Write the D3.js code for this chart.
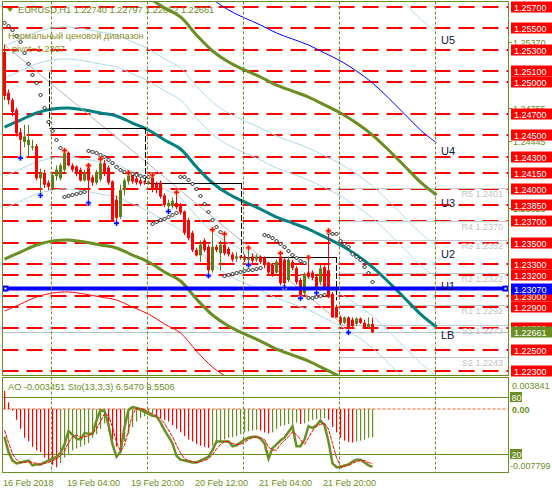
<!DOCTYPE html>
<html><head><meta charset="utf-8">
<script src="https://cdn.jsdelivr.net/npm/d3@7/dist/d3.min.js"></script>
<style>
html,body{margin:0;padding:0;background:#fff;}
svg{display:block;}
text{font-family:"Liberation Sans",Arial,sans-serif;}
</style></head><body>
<svg id="chart" width="552" height="489"></svg>
<script>
// ---------- DATA ----------
const symbolTitle = "EURUSD,H1  1.22740 1.22797 1.22652 1.22661";
const opens=[1.2528,1.2490,1.2483,1.2474,1.2453,1.2444,1.2441,1.2440,1.2440,1.2410,
 1.2415,1.2406,1.2401,1.2412,1.2410,1.2418,1.2434,1.2422,1.2421,1.2418,
 1.2408,1.2421,1.2411,1.2406,1.2409,1.2424,1.2420,1.2407,1.2390,1.2374,
 1.2399,1.2407,1.2413,1.2410,1.2408,1.2407,1.2405,1.2412,1.2405,1.2406,
 1.2394,1.2384,1.2384,1.2387,1.2385,1.2379,1.2371,1.2359,1.2343,1.2338,
 1.2352,1.2346,1.2324,1.2346,1.2340,1.2348,1.2344,1.2339,1.2335,1.2337,
 1.2337,1.2334,1.2337,1.2334,1.2337,1.2336,1.2331,1.2329,1.2322,1.2337,
 1.2334,1.2315,1.2332,1.2326,1.2315,1.2303,1.2322,1.2322,1.2318,1.2313,
 1.2327,1.2324,1.2302,1.2290,1.2280,1.2275,1.2280,1.2278,1.2274,1.2279,
 1.2275,1.2271,1.2274];
const highs=[1.2535,1.2493,1.2485,1.2476,1.2457,1.2460,1.2460,1.2446,1.2442,1.2419,
 1.2418,1.2408,1.2416,1.2422,1.2424,1.2436,1.2435,1.2424,1.2422,1.2420,
 1.2418,1.2422,1.2413,1.2418,1.2428,1.2427,1.2422,1.2408,1.2394,1.2404,
 1.2410,1.2415,1.2414,1.2412,1.2410,1.2408,1.2408,1.2413,1.2407,1.2408,
 1.2396,1.2390,1.2392,1.2397,1.2387,1.2380,1.2373,1.2361,1.2345,1.2352,
 1.2354,1.2348,1.2362,1.2348,1.2352,1.2358,1.2346,1.2341,1.2341,1.2338,
 1.2339,1.2345,1.2340,1.2339,1.2338,1.2337,1.2332,1.2331,1.2334,1.2340,
 1.2336,1.2337,1.2334,1.2328,1.2317,1.2322,1.2336,1.2324,1.2320,1.2329,
 1.2329,1.2361,1.2304,1.2292,1.2282,1.2281,1.2281,1.2280,1.2280,1.2280,
 1.2278,1.2280,1.22797];
const lows=[1.2483,1.2479,1.2468,1.2449,1.2429,1.2439,1.2430,1.2436,1.2408,1.2394,
 1.2401,1.2399,1.2399,1.2408,1.2408,1.2416,1.2421,1.2416,1.2412,1.2407,
 1.2407,1.2387,1.2403,1.2404,1.2407,1.2412,1.2404,1.2370,1.2368,1.2372,
 1.2394,1.2404,1.2405,1.2404,1.2403,1.2404,1.2404,1.2397,1.2396,1.2391,
 1.2383,1.2379,1.2382,1.2381,1.2376,1.2357,1.2352,1.2341,1.2337,1.2332,
 1.2341,1.2319,1.2322,1.2341,1.2324,1.2338,1.2337,1.2332,1.2332,1.2334,
 1.2332,1.2329,1.2331,1.2332,1.2330,1.2326,1.2320,1.2318,1.2319,1.2310,
 1.2308,1.2313,1.2324,1.2311,1.2298,1.2301,1.2316,1.2315,1.2303,1.2310,
 1.2307,1.2298,1.2280,1.2280,1.2273,1.2274,1.2266,1.2271,1.2272,1.2274,
 1.2270,1.2270,1.22652];
const closes=[1.2487,1.2483,1.2472,1.2452,1.2446,1.2449,1.2446,1.2440,1.2410,1.2415,
 1.2404,1.2402,1.2413,1.2418,1.2422,1.2434,1.2422,1.2418,1.2415,1.2408,
 1.2415,1.2408,1.2406,1.2416,1.2424,1.2415,1.2406,1.2371,1.2373,1.2399,
 1.2408,1.2413,1.2407,1.2406,1.2405,1.2406,1.2407,1.2399,1.2399,1.2393,
 1.2385,1.2387,1.2389,1.2383,1.2378,1.2359,1.2354,1.2343,1.2338,1.2348,
 1.2343,1.2324,1.2346,1.2343,1.2348,1.2340,1.2339,1.2334,1.2337,1.2336,
 1.2334,1.2336,1.2333,1.2337,1.2332,1.2329,1.2322,1.2320,1.2332,1.2312,
 1.2312,1.2334,1.2326,1.2313,1.2299,1.2320,1.2318,1.2317,1.2308,1.2326,
 1.2308,1.2299,1.2280,1.2280,1.2275,1.2280,1.2270,1.2272,1.2279,1.2275,
 1.2271,1.2274,1.22661];
const sar=[1.25551,1.25523,1.25485,1.25429,1.25373,1.2527,1.25168,1.25065,1.2499,1.24878,
 1.24757,1.24626,1.24542,1.24458,1.24383,1.23925,1.23935,1.23944,1.23953,1.23963,
 1.23972,1.24355,1.24346,1.24336,1.24318,1.24299,1.24271,1.24243,1.24205,1.24177,
 1.24159,1.24159,1.2414,1.24131,1.24121,1.24112,1.24112,1.23673,1.23692,1.2371,
 1.2372,1.23738,1.23757,1.23776,1.24112,1.24112,1.24084,1.24047,1.2400,1.23935,
 1.2386,1.23785,1.2371,1.23645,1.23598,1.23187,1.23197,1.23206,1.23215,1.23225,
 1.23234,1.23243,1.23243,1.23253,1.23262,1.2357,1.23561,1.23542,1.23514,1.23486,
 1.23458,1.23421,1.23383,1.23355,1.23327,1.23309,1.22982,1.22982,1.22991,1.2300,
 1.2301,1.23589,1.2358,1.2358,1.23514,1.23486,1.23458,1.23393,1.23365,1.23337,
 1.23271,1.23215,1.23131];
const fractalUp=[15,21,24,31,37,43,52,55,61,69,76,81];
const fractalDown=[4,9,21,28,41,51,61,70,74,78,86];

// moving average (displaced) sampled every 4 bars, and envelope deviations
const maBars=[0,4,8,12,16,20,24,28,32,36,40,44,48,52,56,60,64,68,72,76,80,84,88,92,96,100,104,108];
const maValues=[1.24579,1.24644,1.2471,1.24747,1.24757,1.24738,1.2471,1.24682,1.24616,1.24551,
 1.24458,1.24374,1.24205,1.24056,1.23953,1.23879,1.23813,1.23738,1.23682,1.23626,
 1.23552,1.23477,1.23383,1.23271,1.23131,1.22982,1.22832,1.22711];
const envNames=["U5","U4","U3","U2","U1","LB","L1","L2","L3","L4","L5"];
const envDev=[0.02755,0.01719,0.01233,0.00757,0.00458,0,-0.00458,-0.00757,-0.01233,-0.01719,-0.02755];
const envColor=["#a9d9e6","#0000ff","#6b8e23","#a9d9e6","#a9d9e6","#008080","#a9d9e6","#a9d9e6","#6b8e23","#ff0000","#a9d9e6"];
const envWidth=[1,1,3,1,1,3,1,1,3,1,1];
const envLabels=["U5","U4","U3","U2","U1","LB"];

// trend line
const trendBars=[0,85];
const trendPrices=[1.25345,1.2272];
// previous day range steps
const stepBars=[11,35,59,83];
const stepLevels=[1.2509,1.2457,1.24056,1.23365,1.2296];

// horizontal levels
const redLevels=[1.257,1.255,1.253,1.251,1.250,1.247,1.245,1.243,1.2415,1.240,1.2385,1.237,1.235,1.233,1.232,1.230,1.229,1.227,1.225,1.223];
const pivotValue=1.2307;
const pivotNames=["R5","R4","R3","R2","R1","S1","S2"];
const pivotLevels=[1.2401,1.2370,1.2352,1.2322,1.2292,1.2273,1.2243];
const pivotStartBar=84;
const axisTicks=[1.2537,1.24755,1.24445,1.23825];
const bidPrice=1.22661;

// day separators and time labels
const dayStartBars=[12,36,60,84,108];
const timeBars=[0,16,32,48,64,80];
const timeLabels=["16 Feb 2018","19 Feb 04:00","19 Feb 20:00","20 Feb 12:00","21 Feb 04:00","21 Feb 20:00"];

// indicators
const ao=[0.0022,0.0008,-0.0002,-0.00131,-0.00241,-0.0035,-0.00394,-0.0046,-0.00504,-0.00526,
 -0.00591,-0.00635,-0.00679,-0.0071,-0.00657,-0.00591,-0.00548,-0.00504,-0.00482,-0.0046,
 -0.00438,-0.00416,-0.0035,-0.00307,-0.00241,-0.00175,-0.00263,-0.00372,-0.0046,-0.00504,
 -0.00394,-0.00307,-0.00219,-0.00153,-0.0011,-0.00088,-0.00066,-0.00053,-0.00079,-0.0011,
 -0.00131,-0.00153,-0.00197,-0.00241,-0.00285,-0.00329,-0.00372,-0.00394,-0.00429,-0.00447,
 -0.0046,-0.00473,-0.00447,-0.00416,-0.00394,-0.00372,-0.0035,-0.00342,-0.00329,-0.00307,
 -0.00285,-0.00272,-0.00263,-0.00254,-0.00263,-0.00285,-0.00298,-0.00285,-0.00241,-0.0021,
 -0.00197,-0.00184,-0.00175,-0.00166,-0.00184,-0.00175,-0.00153,-0.00131,-0.00123,-0.00114,
 -0.0011,-0.00131,-0.00219,-0.00285,-0.0035,-0.00385,-0.00403,-0.00407,-0.00394,-0.00385,
 -0.00372,-0.0035,-0.003451];
const stochMain=[38,22,13,10,11,12,13,8,9,9,
 11,13,15,17,21,30,44,40,36,35,
 42,41,41,55,66,65,50,30,17,22,
 48,66,69,68,66,64,62,60,59,53,
 45,38,31,18,14,13,12,11,11,13,
 15,17,24,33,33,33,33,28,29,32,
 35,37,38,38,36,31,15,26,30,34,
 37,43,49,28,28,35,49,47,50,55,
 50,33,10,6,6,8,9,12,14,14,
 11,8,6.547];
const stochSignal=[45,32,20,14,11,11,12,11,10,9,
 10,11,13,15,18,23,32,38,40,37,
 38,39,41,46,54,62,60,48,32,23,
 29,45,61,68,68,66,64,62,60,57,
 52,45,38,29,21,15,13,12,11,12,
 13,15,19,25,30,33,33,31,30,30,
 32,35,37,38,37,35,27,24,24,30,
 34,38,43,40,35,30,37,44,49,51,
 52,46,31,16,7,7,8,10,12,13,
 13,11,9.5506];
const stochLevels=[80,20];
const indTitle="AO -0.003451 Sto(13,3,3) 6.5470 9.5506";
const aoMax=0.003841, aoMin=-0.007799;

// ---------- DRAW ----------
const svg=d3.select("#chart");
const OL="#6b8e23";
const PL=2.5, PR=508.5, PT=1.5, PB=375.5, IT=377.5, IB=472.5;
const x=d3.scaleLinear().domain([0,100]).range([4.5,404.5]);
const y=d3.scaleLinear().domain([1.223,1.257]).range([371,7]);
const ys=d3.scaleLinear().domain([0,100]).range([473,377.5]);
const ya=d3.scaleLinear().domain([aoMin,aoMax]).range([473,377.5]);
const fmt5=d3.format(".5f");

svg.append("rect").attr("width",552).attr("height",489).attr("fill","#fff");
const defs=svg.append("defs");
defs.append("clipPath").attr("id","cm").append("rect").attr("x",PL).attr("y",PT).attr("width",PR-PL).attr("height",PB-PT);
defs.append("clipPath").attr("id","ci").append("rect").attr("x",PL).attr("y",IT).attr("width",PR-PL).attr("height",IB-IT);

const gm=svg.append("g").attr("clip-path","url(#cm)");
const gi=svg.append("g").attr("clip-path","url(#ci)");

// day separators
dayStartBars.forEach(i=>{
  const xx=Math.round(x(i)-1.5)+0.5;
  svg.append("line").attr("x1",xx).attr("x2",xx).attr("y1",PT).attr("y2",IB)
    .attr("stroke",OL).attr("stroke-dasharray","3,2");
});

// red dashed levels
gm.selectAll("line.lvl").data(redLevels).join("line").attr("class","lvl")
  .attr("x1",PL).attr("x2",PR).attr("y1",d=>Math.round(y(d))).attr("y2",d=>Math.round(y(d)))
  .attr("stroke","#ff0000").attr("stroke-width",2).attr("stroke-dasharray","16,8");

// pivot grey levels
const px0=x(pivotStartBar)-1.5;
pivotLevels.forEach((v,k)=>{
  const yy=Math.round(y(v))+0.5;
  gm.append("line").attr("x1",px0).attr("x2",PR).attr("y1",yy).attr("y2",yy).attr("stroke","#c8c8c8");
  gm.append("text").attr("x",503).attr("y",yy+8.5).attr("text-anchor","end")
    .attr("font-size",9).attr("fill","#c4c4c4").text(pivotNames[k]+" "+pivotLevels[k].toFixed(4));
});

// bid line
gm.append("line").attr("x1",PL).attr("x2",PR).attr("y1",Math.round(y(bidPrice))+0.5).attr("y2",Math.round(y(bidPrice))+0.5).attr("stroke","#c0c0c0");

// envelopes
const lineGen=d3.line().x(d=>x(d[0])).y(d=>y(d[1])).curve(d3.curveCatmullRom);
const order=[0,3,4,6,7,10,1,9,2,8,5];
order.forEach(k=>{
  const pts=maBars.map((b,j)=>[b,maValues[j]+envDev[k]]);
  gm.append("path").attr("d",lineGen(pts)).attr("fill","none")
    .attr("stroke",envColor[k]).attr("stroke-width",envWidth[k]);
});

// trend line
gm.append("line").attr("x1",x(trendBars[0])).attr("y1",y(trendPrices[0]))
  .attr("x2",x(trendBars[1])).attr("y2",y(trendPrices[1])).attr("stroke","#b4b4b4");

// step lines
stepBars.forEach((b,k)=>{
  const xx=Math.round(x(b))+0.5;
  gm.append("line").attr("x1",xx).attr("x2",xx).attr("y1",y(stepLevels[k])).attr("y2",y(stepLevels[k+1]))
    .attr("stroke","#000").attr("stroke-dasharray","6,2");
  if(k<stepBars.length-1){
    const yy=Math.round(y(stepLevels[k+1]))+0.5;
    gm.append("line").attr("x1",xx).attr("x2",Math.round(x(stepBars[k+1]))+0.5).attr("y1",yy).attr("y2",yy).attr("stroke","#000");
  }
});

// candles
const BULL="#5a7d16", BEAR="#ff0000";
const cg=gm.append("g");
opens.forEach((o,i)=>{
  const c=closes[i], col=c>=o?BULL:BEAR;
  const cx=x(i);
  cg.append("rect").attr("x",cx-0.5).attr("width",1)
    .attr("y",y(highs[i])).attr("height",Math.max(1,y(lows[i])-y(highs[i]))).attr("fill",col);
  const top=y(Math.max(o,c)), bot=y(Math.min(o,c));
  cg.append("rect").attr("x",cx-1.5).attr("width",3)
    .attr("y",top).attr("height",Math.max(1.2,bot-top)).attr("fill",col);
});

// blue pivot line
const pyy=y(pivotValue);
gm.append("line").attr("x1",PL).attr("x2",PR).attr("y1",pyy).attr("y2",pyy).attr("stroke","#0000ff").attr("stroke-width",4);
[PL+3,PR-3].forEach(xx=>{
  gm.append("rect").attr("x",xx-3).attr("y",pyy-3).attr("width",6).attr("height",6).attr("fill","#0000ff");
  gm.append("rect").attr("x",xx-1).attr("y",pyy-1).attr("width",2).attr("height",2).attr("fill","#fff");
});

// SAR
gm.selectAll("path.sar").data(sar).join("path").attr("class","sar")
  .attr("d",(d,i)=>{const cx=x(i),cy=y(d);return `M${cx},${cy-2}L${cx+2},${cy}L${cx},${cy+2}L${cx-2},${cy}Z`;})
  .attr("fill","#fff").attr("stroke","#000").attr("stroke-width",0.9);

// fractals
function cross(g,cx,cy,col,halo){
  g.append("circle").attr("cx",cx).attr("cy",cy).attr("r",3).attr("fill",halo).attr("opacity",0.7);
  g.append("line").attr("x1",cx-2.5).attr("x2",cx+2.5).attr("y1",cy).attr("y2",cy).attr("stroke",col).attr("stroke-width",1.4);
  g.append("line").attr("x1",cx).attr("x2",cx).attr("y1",cy-2.5).attr("y2",cy+2.5).attr("stroke",col).attr("stroke-width",1.4);
}
fractalUp.forEach(i=>cross(gm,x(i),y(highs[i]),"#ff0000","#ffc080"));
fractalDown.forEach(i=>cross(gm,x(i),y(lows[i]),"#0000ff","#a0c8ff"));

// envelope labels
envLabels.forEach((n,k)=>{
  const v=maValues[maValues.length-1]+envDev[k];
  svg.append("text").attr("x",441).attr("y",y(v)+12).attr("font-size",11).attr("fill","#14143c").text(n);
});

// title texts
svg.append("path").attr("d","M7,8L13,8L10,12Z").attr("fill",OL);
svg.append("text").attr("x",18).attr("y",13).attr("font-size",9.2).attr("fill",OL).text(symbolTitle);
svg.append("text").attr("x",8).attr("y",39).attr("font-size",9.2).attr("fill","#8c8c24").text("Нормальный ценовой диапазон");
svg.append("text").attr("x",12).attr("y",52).attr("font-size",9.2).attr("fill","#8c8c24").text("pivot="+pivotValue.toFixed(4));

// ---------- indicator pane ----------
gi.append("line").attr("x1",PL).attr("x2",PR).attr("y1",ya(0)).attr("y2",ya(0))
  .attr("stroke","#ff5a1e").attr("stroke-dasharray","3,2");
stochLevels.forEach(v=>{
  gi.append("line").attr("x1",PL).attr("x2",PR).attr("y1",Math.round(ys(v))+0.5).attr("y2",Math.round(ys(v))+0.5).attr("stroke",OL);
});
ao.forEach((v,i)=>{
  const up=i>0 && v>ao[i-1];
  const y0=ya(0), y1=ya(v);
  gi.append("rect").attr("x",x(i)-0.5).attr("width",1.2)
    .attr("y",Math.min(y0,y1)).attr("height",Math.abs(y1-y0)).attr("fill",up?OL:"#ff0000");
});
const sl=d3.line().x((d,i)=>x(i)).y(d=>ys(d));
gi.append("path").attr("d",sl(stochMain)).attr("fill","none").attr("stroke",OL).attr("stroke-width",2.5);
gi.append("path").attr("d",sl(stochSignal)).attr("fill","none").attr("stroke","#ff0000").attr("stroke-width",1).attr("stroke-dasharray","4,1");
svg.append("text").attr("x",8).attr("y",390).attr("font-size",9.2).attr("fill",OL).text(indTitle);

// ---------- frames ----------
svg.append("rect").attr("x",PL).attr("y",PT).attr("width",PR-PL).attr("height",PB-PT).attr("fill","none").attr("stroke",OL);
svg.append("rect").attr("x",PL).attr("y",IT).attr("width",PR-PL).attr("height",IB-IT).attr("fill","none").attr("stroke",OL);

// ---------- price axis ----------
axisTicks.forEach(v=>{
  const yy=Math.round(y(v))+0.5;
  svg.append("line").attr("x1",PR).attr("x2",PR+3).attr("y1",yy).attr("y2",yy).attr("stroke",OL);
  svg.append("text").attr("x",513).attr("y",yy+3.5).attr("font-size",9).attr("fill",OL).text(fmt5(v));
});
function box(v,fill){
  const yy=Math.round(y(v));
  svg.append("rect").attr("x",511).attr("y",yy-5.5).attr("width",41).attr("height",11).attr("fill",fill);
  svg.append("text").attr("x",514).attr("y",yy+3.5).attr("font-size",9).attr("fill","#fff").text(fmt5(v));
}
redLevels.forEach(v=>box(v,"#ff0000"));
box(pivotValue,"#0000ff");
box(bidPrice,OL);

// indicator axis
svg.append("text").attr("x",512).attr("y",389).attr("font-size",9).attr("fill",OL).text(aoMax.toFixed(6));
svg.append("text").attr("x",510).attr("y",469).attr("font-size",9).attr("fill",OL).text(aoMin.toFixed(6));
stochLevels.forEach(v=>{
  const yy=Math.round(ys(v));
  svg.append("rect").attr("x",510).attr("y",yy-5).attr("width",12).attr("height",10).attr("fill",OL);
  svg.append("text").attr("x",511.5).attr("y",yy+3.5).attr("font-size",9).attr("fill","#fff").text(v);
});
svg.append("text").attr("x",512).attr("y",Math.round(ya(0))+3.5).attr("font-size",9).attr("font-weight","bold").attr("fill",OL).text("0.00");

// time axis
timeBars.forEach((b,k)=>{
  svg.append("text").attr("x",x(b)-1.5).attr("y",485.5).attr("font-size",9).attr("fill",OL).text(timeLabels[k]);
});
</script>
</body></html>
